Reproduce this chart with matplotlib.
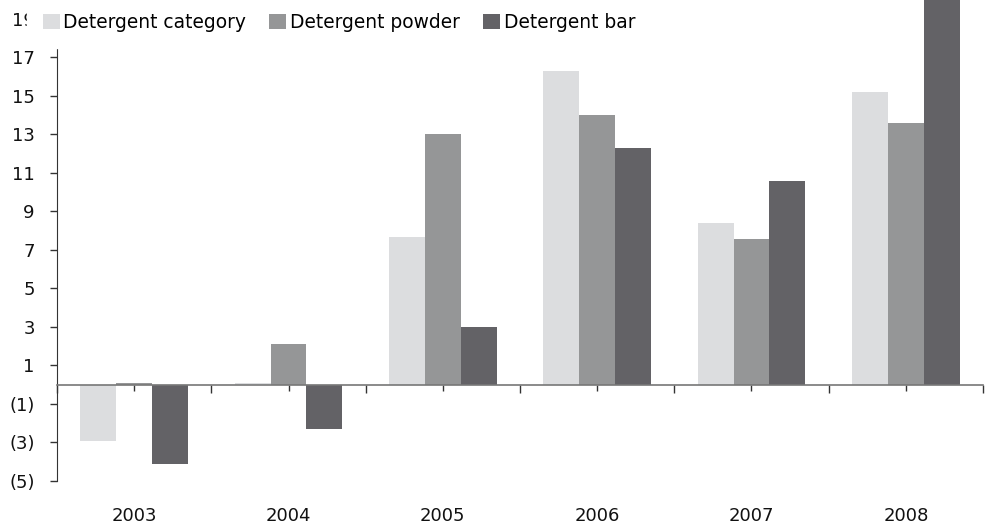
import numpy as np
import matplotlib.pyplot as plt

# data
years = ['2003', '2004', '2005', '2006', '2007', '2008']
category = [-2.9, 0.1, 7.65, 16.3, 8.4, 15.2]
powder = [0.1, 2.1, 13.0, 14.0, 7.55, 13.6]
bar = [-4.1, -2.3, 3.0, 12.3, 10.55, 21.0]
series_names = ['Detergent category', 'Detergent powder', 'Detergent bar']
colors = ['#dcdddf', '#959697', '#636266']

plt.rcParams['font.family'] = ['DejaVu Sans']

fig = plt.figure(figsize=(9.87, 5.29), dpi=100)
ax = fig.add_axes([57 / 987, 48 / 529, 926 / 987, 481 / 529])

x = np.arange(len(years))
w = 0.233
for i, (vals, name, c) in enumerate(zip([category, powder, bar], series_names, colors)):
    ax.bar(x + (i - 1) * w, vals, width=w, color=c, label=name, zorder=2)

ax.set_xlim(-0.5, len(years) - 0.5)
ax.set_ylim(-5, 19.96)

# y axis
yt = np.arange(-5, 20, 2)
ax.set_yticks(yt)
ax.set_yticklabels([f'({abs(v)})' if v < 0 else str(v) for v in yt], fontsize=13)
ax.tick_params(axis='y', direction='out', length=5, width=1, pad=11, colors='#333333',
               labelcolor='#111111')

# x axis at zero
for s in ['top', 'right']:
    ax.spines[s].set_visible(False)
ax.spines['left'].set_color('#333333')
ax.spines['bottom'].set_position(('data', 0))
ax.spines['bottom'].set_color('#777777')
ax.spines['bottom'].set_linewidth(1.2)
ax.spines['bottom'].set_zorder(3)
ax.set_xticks(np.arange(-0.5, len(years), 1.0))
ax.set_xticks(x, minor=True)
ax.tick_params(axis='x', which='major', direction='out', length=6, width=1,
               colors='#333333', labelbottom=False)
ax.tick_params(axis='x', which='minor', direction='out', length=4, width=1,
               colors='#333333', labelbottom=False)

for xi, yr in zip(x, years):
    ax.text(xi, -0.055, yr, transform=ax.get_xaxis_transform(), ha='center', va='top',
            fontsize=13, color='#111111')

leg = ax.legend(loc='upper left', bbox_to_anchor=(27 / 987, 1 + 3 / 529),
                bbox_transform=fig.transFigure,
                ncol=3, fontsize=13.4, frameon=True, fancybox=False, framealpha=1,
                handlelength=0.9, handleheight=0.9, handletextpad=0.2, columnspacing=1.25,
                borderpad=0.85, borderaxespad=0)
leg.get_frame().set_edgecolor('white')
leg.get_frame().set_facecolor('white')
leg.set_zorder(10)

fig.savefig('out.png', dpi=100)
